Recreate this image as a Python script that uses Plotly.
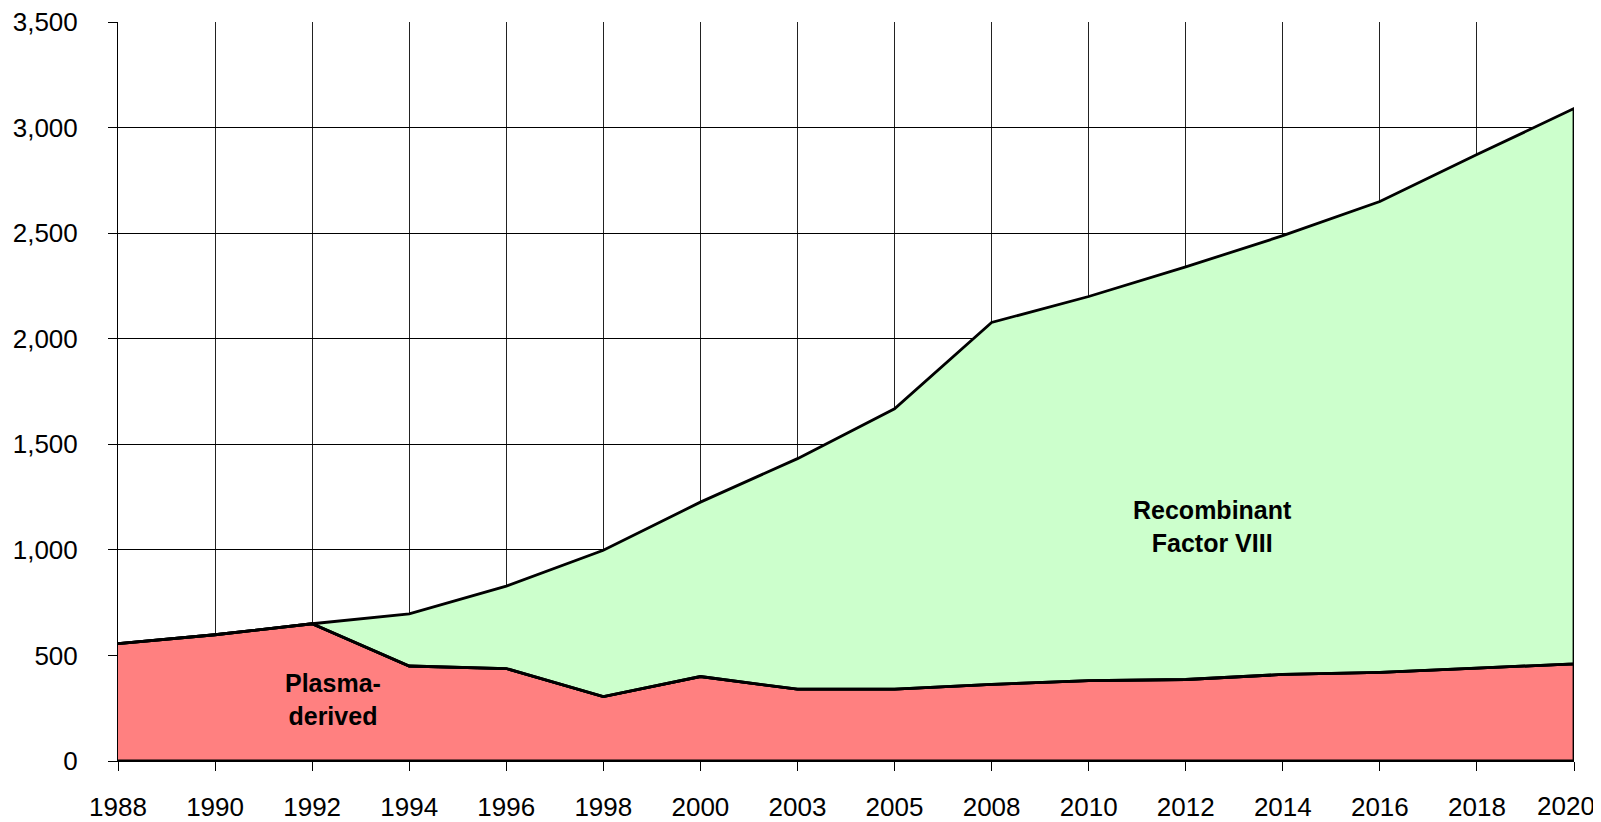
import plotly.graph_objects as go

years = ["1988", "1990", "1992", "1994", "1996", "1998", "2000", "2003", "2005",
         "2008", "2010", "2012", "2014", "2016", "2018", "2020"]
plasma = [556, 598, 650, 450, 438, 305, 400, 340, 340, 363, 381, 386, 410, 420, 440, 460]
total = [556, 598, 650, 697, 828, 998, 1226, 1432, 1668, 2077, 2200, 2340, 2488, 2650, 2872, 3090]
recombinant = [t - p for t, p in zip(total, plasma)]
y_ticks = [0, 500, 1000, 1500, 2000, 2500, 3000, 3500]

recomb_top = [p + r for p, r in zip(plasma, recombinant)]
# last label is drawn separately, nudged left to stay inside the canvas
x_ticktext = years[:-1] + [""]

fig = go.Figure()
# Plasma-derived area (closed polygon to baseline)
fig.add_trace(go.Scatter(
    x=years + years[::-1],
    y=plasma + [0] * len(years),
    fill="toself", fillcolor="#FF8080",
    line=dict(color="black", width=2.8),
    mode="lines", hoverinfo="skip", showlegend=False,
))
# Recombinant area stacked on plasma
fig.add_trace(go.Scatter(
    x=years + years[::-1],
    y=recomb_top + plasma[::-1],
    fill="toself", fillcolor="#CCFFCC",
    line=dict(color="black", width=2.8),
    mode="lines", hoverinfo="skip", showlegend=False,
))
# redraw plasma top line over recombinant border
fig.add_trace(go.Scatter(
    x=years, y=plasma, mode="lines",
    line=dict(color="black", width=2.8),
    hoverinfo="skip", showlegend=False,
))

lab_font = dict(family="Liberation Sans, Arial, sans-serif", size=25, color="black")
fig.add_annotation(x=2.21, y=290, xref="x", yref="y",
                   text="<b>Plasma-<br>derived</b>", showarrow=False,
                   font=lab_font, align="center")
fig.add_annotation(x=11.28, y=1110, xref="x", yref="y",
                   text="<b>Recombinant<br>Factor VIII</b>", showarrow=False,
                   font=lab_font, align="center")

tick_font = dict(family="Liberation Sans, Arial, sans-serif", size=26, color="black")
# label of the last category (axis end == paper x 1)
fig.add_annotation(x=1, y=0, xref="paper", yref="paper",
                   text=years[-1], showarrow=False, font=tick_font,
                   yanchor="middle", xanchor="center", yshift=-45, xshift=-8)

fig.update_layout(
    width=1601, height=822,
    margin=dict(l=110, r=35, t=14, b=69),
    paper_bgcolor="white", plot_bgcolor="white",
    xaxis=dict(
        type="category", categoryorder="array", categoryarray=years,
        tickvals=years, ticktext=x_ticktext,
        range=[0, len(years) - 1], automargin=False,
        showgrid=True, gridcolor="#222", gridwidth=1,
        showline=True, linecolor="black", linewidth=1,
        ticks="outside", ticklen=9, tickcolor="black", tickwidth=1,
        tickfont=tick_font, ticklabelstandoff=14, ticklabeloverflow="allow",
        fixedrange=True,
    ),
    yaxis=dict(
        range=[0, 3500], tickvals=y_ticks, automargin=False,
        tickformat=",d",
        showgrid=True, gridcolor="black", gridwidth=1,
        showline=True, linecolor="black", linewidth=1,
        ticks="outside", ticklen=9, tickcolor="black", tickwidth=1,
        tickfont=tick_font, ticklabelstandoff=25, ticklabeloverflow="allow",
        zeroline=False, fixedrange=True,
    ),
)

fig.write_html("out.html")
